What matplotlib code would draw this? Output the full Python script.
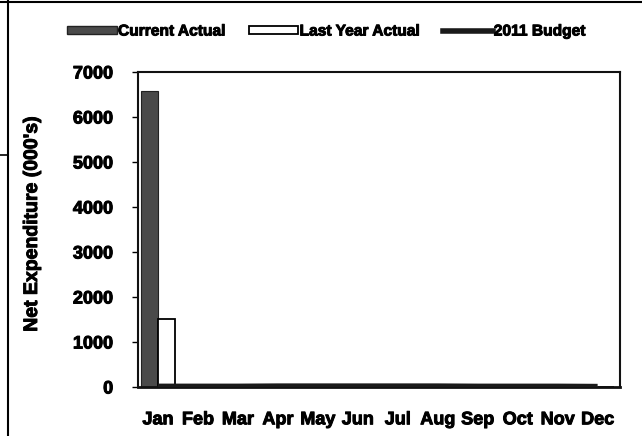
import matplotlib
matplotlib.use("Agg")
import matplotlib.pyplot as plt
import matplotlib.patheffects as pe
import numpy as np
from matplotlib.lines import Line2D
from matplotlib.patches import Patch

months = ["Jan", "Feb", "Mar", "Apr", "May", "Jun", "Jul", "Aug", "Sep", "Oct", "Nov", "Dec"]
current_actual = [6580] + [0] * 11
last_year_actual = [1520] + [0] * 11
budget_2011 = [20, 20, 20, 25, 25, 25, 25, 25, 20, 20, 20, 15]
yticks = [0, 1000, 2000, 3000, 4000, 5000, 6000, 7000]

plt.rcParams['font.family'] = ['Liberation Sans', 'DejaVu Sans']
plt.rcParams['font.weight'] = 'bold'

heavy = [pe.withStroke(linewidth=0.7, foreground='black')]

fig = plt.figure(figsize=(6.42, 4.36), dpi=100)
L, R, T, B = 138, 620, 72, 387
ax = fig.add_axes([L/642, (436-B)/436, (R-L)/642, (B-T)/436])

x = np.arange(len(months))
w = 0.42
ax.bar(x - w/2, current_actual, width=w, color="#4a4a4a", edgecolor="#222222", linewidth=0.8, zorder=2)
ax.bar(x + w/2, last_year_actual, width=w, color="white", edgecolor="black", linewidth=1.3, zorder=2)
ax.plot(x, budget_2011, color="#1a1a1a", linewidth=3.6, zorder=3, solid_capstyle='butt')

ax.set_xlim(-0.5, 11.56)
ax.set_ylim(0, 7000)
ax.set_yticks(yticks)
ax.set_yticklabels([str(v) for v in yticks], fontsize=13, fontweight='bold')
ax.set_xticks(x)
ax.set_xticklabels(months, fontsize=13, fontweight='bold')
ax.tick_params(axis='x', length=0, pad=17.5)
ax.tick_params(axis='y', length=4.3, width=1, pad=13.5, direction='out')
for s in ax.spines.values():
    s.set_linewidth(1.5)
    s.set_color("#111111")
ax.spines['bottom'].set_linewidth(2)
ax.set_ylabel("Net Expenditure (000's)", fontsize=14, fontweight='bold')
ax.yaxis.set_label_coords((41 - L) / (R - L), 0.5 - ((224 - (T + B) / 2) / (B - T)))
for t in ax.get_xticklabels() + ax.get_yticklabels() + [ax.yaxis.label]:
    t.set_path_effects(heavy)

handles = [Patch(facecolor="#4a4a4a", edgecolor="#222222"),
           Patch(facecolor="white", edgecolor="black", linewidth=1.3),
           Line2D([0], [0], color="#1a1a1a", linewidth=4)]
leg = fig.legend(handles, ["Current Actual", "Last Year Actual", "2011 Budget"],
                 loc='center', bbox_to_anchor=(326/642, 1 - 31/436), ncol=3, frameon=False,
                 handlelength=3.2, handleheight=0.45, handletextpad=0.08, columnspacing=1.5,
                 prop={'weight': 'bold', 'size': 11.2})
for t in leg.get_texts():
    t.set_path_effects(heavy)

# outer frame lines
fig.add_artist(Line2D([8/642, 8/642], [0, 1], color='black', linewidth=1.5, transform=fig.transFigure))
fig.add_artist(Line2D([0, 1], [1 - 2/436, 1 - 2/436], color='black', linewidth=1.5, transform=fig.transFigure))
fig.add_artist(Line2D([0, 8/642], [1 - 155/436, 1 - 155/436], color='black', linewidth=1.2, transform=fig.transFigure))

fig.savefig("out.png", dpi=100, facecolor='white')
